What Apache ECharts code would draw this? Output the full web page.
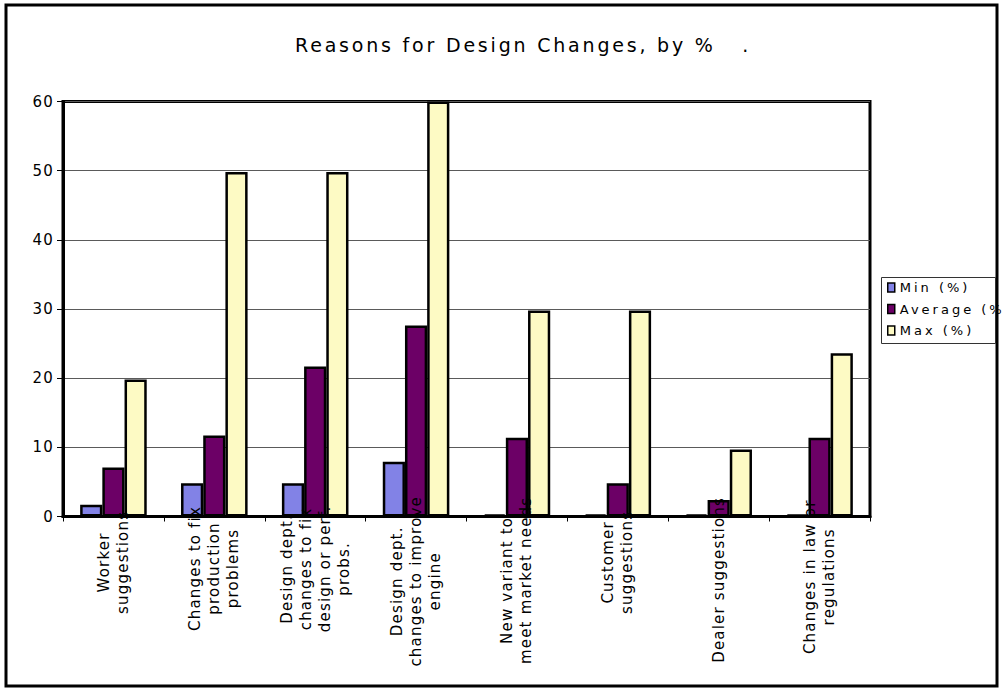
<!DOCTYPE html>
<html>
<head>
<meta charset="utf-8">
<script src="https://cdn.jsdelivr.net/npm/echarts@6/dist/echarts.min.js"></script>
<style>
html, body { margin: 0; padding: 0; background: #ffffff; }
#chart { width: 1002px; height: 689px; }
#chart svg text { letter-spacing: 1.2px; }
#chart svg text[style*="19px"] { letter-spacing: 2.8px; }
#chart svg text[style*="13px"] { letter-spacing: 3px; }
</style>
</head>
<body>
<div id="chart"></div>
<script>
// ---- data ----
const titleText = 'Reasons for Design Changes, by %   .';
const categories = [
  'Worker\nsuggestions',
  'Changes to fix\nproduction\nproblems',
  'Design dept.\nchanges to fix\ndesign or perf.\nprobs.',
  'Design dept.\nchanges to improve\nengine',
  'New variant to\nmeet market needs',
  'Customer\nsuggestions',
  'Dealer suggestions',
  'Changes in law or\nregulations'
];
const seriesNames = ['Min (%)', 'Average (%)', 'Max (%)'];
const minValues = [1.7, 4.8, 4.8, 7.9, 0.3, 0.3, 0.3, 0.3];
const avgValues = [7.1, 11.7, 21.7, 27.6, 11.4, 4.8, 2.4, 11.4];
const maxValues = [19.8, 49.8, 49.8, 60, 29.8, 29.8, 9.7, 23.6];
const yMin = 0, yMax = 60, yStep = 10;

// ---- styling ----
const FONT = '"DejaVu Sans", Verdana, sans-serif';
const LABEL_SIZE = 15;
const LABEL_LS = 1.2;
const LABEL_MARGIN = 30;
const colors = ['#8282E6', '#6C0066', '#FDFAC4'];

const measureCtx = document.createElement('canvas').getContext('2d');
measureCtx.font = LABEL_SIZE + 'px "DejaVu Sans"';
function lineW(s) { return measureCtx.measureText(s).width + s.length * LABEL_LS; }

const xData = categories.map(function (c) {
  const w = Math.max.apply(null, c.split('\n').map(lineW));
  const offset = 17 + 0.28 * w;            // block centre below the axis
  const p = Math.max(0, 2 * (offset - LABEL_MARGIN));
  return {
    value: c,
    textStyle: { align: 'center', verticalAlign: 'middle', padding: [0, p, 0, 0] }
  };
});

function barSeries(name, data, color) {
  return {
    name: name, type: 'bar', data: data,
    barGap: '0%', barCategoryGap: '34%',
    itemStyle: { color: color, borderColor: '#000', borderWidth: 2.5 },
    emphasis: { disabled: true }
  };
}

const chart = echarts.init(document.getElementById('chart'), null, { renderer: 'svg' });
chart.setOption({
  animation: false,
  backgroundColor: '#ffffff',
  title: {
    text: titleText, left: 295, top: 35, padding: 0,
    textStyle: { fontFamily: FONT, fontSize: 19, fontWeight: 'normal', color: '#000' }
  },
  legend: {
    orient: 'vertical', left: 887, top: 281, padding: 0, itemGap: 8.5,
    icon: 'rect', itemWidth: 7, itemHeight: 9,
    itemStyle: { borderColor: '#000', borderWidth: 1.5 },
    textStyle: { fontFamily: FONT, fontSize: 13, color: '#000' },
    data: seriesNames
  },
  grid: {
    left: 63, top: 101.5, width: 807, height: 415,
    show: true, borderColor: '#000', borderWidth: 3,
    containLabel: false, outerBoundsMode: 'none'
  },
  xAxis: {
    type: 'category', data: xData, z: 10,
    axisLine: { lineStyle: { color: '#000', width: 3 } },
    axisTick: { show: true, length: 5, lineStyle: { color: '#000', width: 1 } },
    axisLabel: {
      interval: 0, rotate: 90, align: 'center', verticalAlign: 'middle',
      margin: LABEL_MARGIN, fontFamily: FONT, fontSize: LABEL_SIZE,
      lineHeight: 19, color: '#000', hideOverlap: false
    },
    splitLine: { show: false }
  },
  yAxis: {
    type: 'value', min: yMin, max: yMax, interval: yStep,
    axisLine: { show: true, lineStyle: { color: '#000', width: 3 } },
    axisTick: { show: true, length: 6, lineStyle: { color: '#000', width: 1 } },
    axisLabel: { margin: 9, fontFamily: FONT, fontSize: 15, color: '#000' },
    splitLine: { show: true, lineStyle: { color: '#5a5a5a', width: 1 } }
  },
  series: [
    barSeries(seriesNames[0], minValues, colors[0]),
    barSeries(seriesNames[1], avgValues, colors[1]),
    barSeries(seriesNames[2], maxValues, colors[2])
  ],
  graphic: [
    { type: 'rect', silent: true, z: 100,
      shape: { x: 6, y: 5, width: 991, height: 681 },
      style: { fill: 'none', stroke: '#000', lineWidth: 3 } },
    { type: 'rect', silent: true, z: 100,
      shape: { x: 881.5, y: 277.5, width: 114, height: 66 },
      style: { fill: 'none', stroke: '#333', lineWidth: 1 } }
  ]
});
</script>
</body>
</html>
